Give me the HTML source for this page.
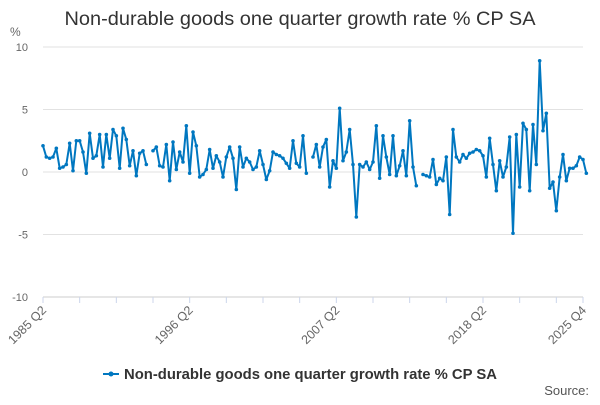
<!DOCTYPE html>
<html><head><meta charset="utf-8"><style>
body{margin:0;background:#fff;font-family:"Liberation Sans",sans-serif}
svg text{font-family:"Liberation Sans",sans-serif}
</style></head><body>
<svg id="chart" width="600" height="400" xmlns="http://www.w3.org/2000/svg">
<text x="300" y="25" text-anchor="middle" font-size="19.5" fill="#333" textLength="471" lengthAdjust="spacingAndGlyphs">Non-durable goods one quarter growth rate % CP SA</text>
<text x="10" y="36" font-size="12" fill="#666">%</text>
<g id="grid"></g><g id="xaxis"></g><g id="series"></g>
<g>
<line x1="103" y1="374" x2="119" y2="374" stroke="#0077c0" stroke-width="2"/>
<circle cx="111" cy="374" r="2.5" fill="#0077c0"/>
<text x="124" y="379" font-size="14.5" font-weight="bold" fill="#333" textLength="373" lengthAdjust="spacingAndGlyphs">Non-durable goods one quarter growth rate % CP SA</text>
</g>
<text x="589" y="395" text-anchor="end" font-size="13" fill="#555">Source:</text>
</svg>
<script>
const yTicks=[10,5,0,-5,-10];
const xLabels=["1985 Q2","1996 Q2","2007 Q2","2018 Q2","2025 Q4"];
const xLabelIdx=[0,44,88,132,162];
const values=[2.1,1.2,1.1,1.2,1.9,0.3,0.4,0.6,2.3,0.1,2.5,2.5,1.6,-0.1,3.1,1.1,1.3,3.0,0.4,3.0,1.1,3.4,2.9,0.3,3.5,2.6,0.5,1.7,-0.3,1.5,1.7,0.6,null,
1.7,2.0,0.5,0.4,2.2,-0.7,2.4,0.2,1.6,0.8,3.7,-0.1,3.2,2.1,-0.4,-0.2,0.2,1.8,0.3,1.3,0.8,-0.4,1.2,2.0,1.1,-1.4,2.0,0.4,1.1,0.8,0.2,0.4,1.7,0.6,-0.6,0.1,1.6,1.4,1.3,1.1,0.7,0.3,2.5,0.7,0.4,2.9,-0.1,null,
1.2,2.2,0.4,2.0,2.6,-1.2,0.9,0.3,5.1,0.9,1.6,3.4,0.6,-3.6,0.6,0.4,0.8,0.2,0.8,3.7,-0.5,2.9,1.2,-0.2,2.9,-0.3,0.5,1.7,-0.3,4.1,0.4,-1.1,null,
-0.2,-0.3,-0.4,1.0,-1.0,-0.5,-0.7,1.2,-3.4,3.4,1.2,0.8,1.4,1.1,1.5,1.6,1.8,1.7,1.3,-0.4,2.7,0.6,-1.5,0.9,-0.4,0.4,2.8,-4.9,3.0,-1.2,3.9,3.4,-1.5,3.8,0.6,8.9,3.3,4.7,-1.3,-0.8,-3.1,-0.4,1.4,-0.7,0.3,0.3,0.5,1.2,1.0,-0.1];
const NS="http://www.w3.org/2000/svg";
const x=i=>43+i*540/162;
const y=v=>172-v*12.5;
function mk(t,a,p){const e=document.createElementNS(NS,t);for(const k in a)e.setAttribute(k,a[k]);p.appendChild(e);return e;}
const grid=document.getElementById('grid'),xa=document.getElementById('xaxis'),ser=document.getElementById('series');
yTicks.forEach(t=>{
  const l=mk('line',{x1:43,x2:583,y1:y(t),y2:y(t),stroke:t===-10?'#ccc':'#e2e2e2','stroke-width':1},grid);
  
  
  const tx=mk('text',{x:28,y:y(t)+4,'text-anchor':'end','font-size':11,fill:'#666'},grid);
  tx.textContent=t;
  
  
});
for(let i=0;i<=162;i+=11){mk('line',{x1:x(i),x2:x(i),y1:297,y2:303,stroke:'#ccd6eb'},xa);}
mk('line',{x1:x(162),x2:x(162),y1:297,y2:303,stroke:'#ccd6eb'},xa);
xLabels.forEach((s,k)=>{
  const xx=x(xLabelIdx[k]);
  const t=mk('text',{x:xx+4,y:311,'text-anchor':'end','font-size':12.5,fill:'#666',transform:`rotate(-45 ${xx+4} 311)`},xa);
  t.textContent=s;
  
  
});
let d='',pen=false;
values.forEach((v,i)=>{if(v===null){pen=false;return;}d+=(pen?'L':'M')+x(i).toFixed(1)+' '+y(v).toFixed(1)+' ';pen=true;});
const p=mk('path',{d:d,fill:'none',stroke:'#0077c0','stroke-width':2,'stroke-linejoin':'round'},ser);


values.forEach((v,i)=>{if(v===null)return;
  const c=mk('circle',{cx:x(i),cy:y(v),r:1.8,fill:'#0077c0'},ser);
  
  
});
</script>
</body></html>
